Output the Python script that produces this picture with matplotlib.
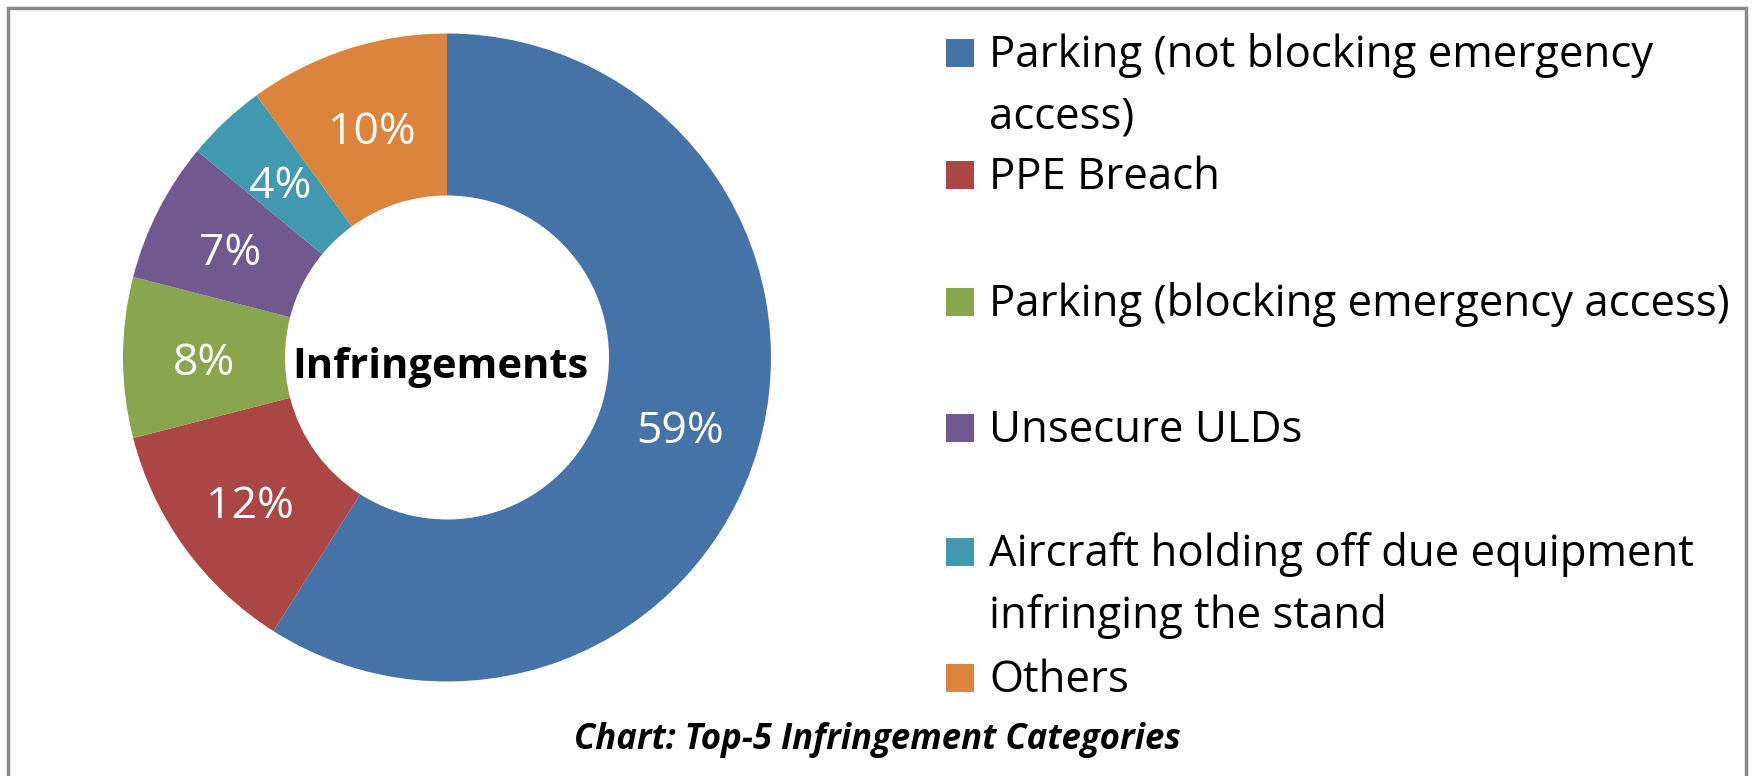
import matplotlib
matplotlib.use('Agg')
import matplotlib.pyplot as plt
from matplotlib.patches import Rectangle

plt.rcParams['font.family'] = ['Open Sans', 'DejaVu Sans']

categories = ['Parking (not blocking emergency\naccess)',
              'PPE Breach',
              'Parking (blocking emergency access)',
              'Unsecure ULDs',
              'Aircraft holding off due equipment\ninfringing the stand',
              'Others']
shares = [59, 12, 8, 7, 4, 10]
colors = ['#4572A7', '#AA4643', '#89A54E', '#71588F', '#4198AF', '#DB843D']
center_text = 'Infringements'
caption = 'Chart: Top-5 Infringement Categories'

W, H = 1752, 776
fig = plt.figure(figsize=(W / 100, H / 100), dpi=100)

# outer frame
fig.add_artist(Rectangle((8 / W, -0.1), (1746 - 8) / W, 1.1 - 8 / H,
                         transform=fig.transFigure, fill=False,
                         edgecolor='#8a8a8a', linewidth=2.5))

# donut: center (447, 357) px, radius 324 px
cx, cy, r = 447, 357.5, 324
ax = fig.add_axes([(cx - r) / W, (H - cy - r) / H, 2 * r / W, 2 * r / H])
wedges, texts, autotexts = ax.pie(shares, colors=colors, startangle=90, counterclock=False,
                                  autopct='%.0f%%', pctdistance=0.75,
                                  wedgeprops=dict(width=0.5, linewidth=0),
                                  textprops=dict(color='white', fontsize=32))
for t in autotexts:
    x, y = t.get_position()
    t.set_position((x, y - 0.02))
ax.set_xlim(-1, 1)
ax.set_ylim(-1, 1)
ax.set_aspect('equal')
ax.text(-0.02, -0.03, center_text, ha='center', va='center', fontsize=30,
        fontweight='bold', color='black')

# legend drawn by hand (Excel-like wrapping)
legend_y = [52.5, 175, 302, 428, 552, 678]
line_gap = 62
sq = 28
for lab, col, y in zip(categories, colors, legend_y):
    fig.add_artist(Rectangle((946 / W, (H - y - sq / 2) / H), sq / W, sq / H,
                             transform=fig.transFigure, facecolor=col, edgecolor='none'))
    for i, line in enumerate(lab.split('\n')):
        yb = y + i * line_gap + 14
        fig.text(989 / W, (H - yb) / H, line, ha='left', va='baseline',
                 fontsize=31.5, color='black')

fig.text(877 / W, (H - 740) / H, caption, ha='center', va='center',
         fontsize=25, fontweight='bold', fontstyle='italic', color='black')

fig.savefig('out.png', dpi=100, facecolor='white')
